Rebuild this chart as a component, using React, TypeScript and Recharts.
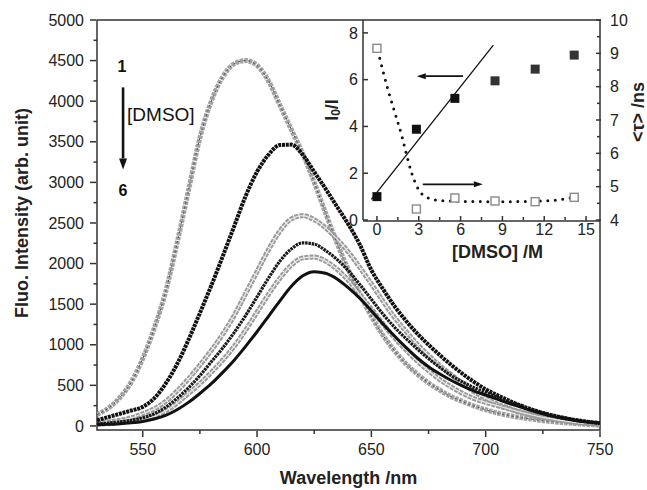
import React from 'react';
import {
  LineChart,
  ComposedChart,
  Line,
  XAxis,
  YAxis,
  ReferenceArea,
  ReferenceLine,
  Label,
} from 'recharts';

const FONT = '"Liberation Sans", Arial, Helvetica, sans-serif';
const INK = '#222';
const AXIS = '#333';

// emission spectra, 5 nm steps, curves 1 → 6 with increasing [DMSO]
const wavelengths = [
  530, 535, 540, 545, 550, 555, 560, 565, 570, 575, 580, 585, 590, 595, 600,
  605, 610, 615, 620, 625, 630, 635, 640, 645, 650, 655, 660, 665, 670, 675,
  680, 685, 690, 695, 700, 705, 710, 715, 720, 725, 730, 735, 740, 745, 750,
];
const spectrum1 = [
  140, 220, 350, 540, 830, 1200, 1650, 2250, 2900, 3550, 4000, 4300, 4460, 4500, 4440,
  4250, 3950, 3650, 3350, 3000, 2620, 2250, 1920, 1620, 1350, 1120, 930, 770, 640, 530,
  440, 360, 300, 245, 200, 160, 130, 105, 85, 65, 50, 38, 28, 18, 12,
];
const spectrum2 = [
  70, 110, 150, 190, 235, 340, 520, 760, 1060, 1390, 1730, 2090, 2460, 2830, 3130,
  3340, 3460, 3465, 3340, 3130, 2920, 2700, 2480, 2230, 1920, 1690, 1480, 1300, 1140, 1000,
  870, 750, 640, 540, 450, 380, 315, 255, 205, 160, 125, 95, 70, 50, 35,
];
const spectrum3 = [
  35, 50, 70, 100, 150, 210, 300, 430, 580, 750, 930, 1130, 1360, 1630, 1900,
  2170, 2400, 2550, 2590, 2540, 2440, 2300, 2140, 1950, 1750, 1540, 1340, 1170, 1010, 870,
  740, 630, 520, 420, 340, 270, 220, 175, 140, 110, 85, 62, 45, 32, 22,
];
const spectrum4 = [
  25, 35, 50, 70, 100, 150, 230, 340, 470, 620, 790, 960, 1150, 1360, 1590,
  1820, 2030, 2180, 2255, 2240, 2160, 2050, 1910, 1740, 1560, 1380, 1220, 1080, 950, 830,
  720, 620, 540, 470, 410, 355, 300, 250, 200, 160, 125, 95, 70, 50, 35,
];
const spectrum5 = [
  20, 28, 40, 55, 80, 120, 185, 280, 400, 520, 660, 810, 980, 1180, 1400,
  1620, 1820, 1980, 2070, 2080, 2030, 1930, 1790, 1620, 1440, 1260, 1090, 940, 800, 680,
  570, 480, 400, 335, 290, 250, 210, 170, 135, 105, 80, 60, 42, 30, 20,
];
const spectrum6 = [
  15, 20, 28, 38, 55, 85, 130, 200, 290, 400, 520, 660, 810, 980, 1160,
  1350, 1540, 1720, 1850, 1900, 1880, 1810, 1700, 1570, 1420, 1260, 1110, 970, 840, 730,
  640, 560, 490, 430, 380, 330, 280, 235, 190, 150, 115, 88, 65, 48, 35,
];

const wlTicks = [550, 600, 650, 700, 750];
const wlMinorTicks = [575, 625, 675, 725];
const intensityTicks = [0, 500, 1000, 1500, 2000, 2500, 3000, 3500, 4000, 4500, 5000];
const intensityMinorTicks = [250, 750, 1250, 1750, 2250, 2750, 3250, 3750, 4250, 4750];

// inset: I0/I (left axis) and mean lifetime (right axis) against [DMSO]
const dmso = [0, 2.83, 5.59, 8.47, 11.35, 14.15];
const quenchRatio = [1.0, 3.88, 5.2, 5.95, 6.45, 7.05];
const lifetime = [9.15, 4.33, 4.66, 4.57, 4.55, 4.68];
const ratioFitX = [-0.4, 8.35];
const ratioFitY = [0.88, 7.48];
const lifetimeFitX = [0.2, 0.8, 1.3, 1.8, 2.1, 2.5, 3.0, 3.5, 4.2, 6, 9, 12, 14.15];
const lifetimeFitY = [8.85, 7.9, 7.2, 6.5, 6.0, 5.4, 4.9, 4.7, 4.6, 4.56, 4.55, 4.57, 4.68];

const dmsoTicks = [0, 3, 6, 9, 12, 15];
const dmsoMinorTicks = [1.5, 4.5, 7.5, 10.5, 13.5];
const ratioTicks = [0, 2, 4, 6, 8];
const lifetimeTicks = [4, 5, 6, 7, 8, 9, 10];
const lifetimeMinorTicks = [4.5, 5.5, 6.5, 7.5, 8.5, 9.5];

// annotation arrows (data coordinates)
const dmsoArrow = { x: 541.4, from: 4170, to: 3160 };
const ratioArrow = { y: 6.15, from: 6.17, to: 2.86 };
const lifetimeArrow = { y: 5.07, from: 3.29, to: 7.6 };

const spectrumRows = wavelengths.map((wl, i) => ({
  wl,
  s1: spectrum1[i],
  s2: spectrum2[i],
  s3: spectrum3[i],
  s4: spectrum4[i],
  s5: spectrum5[i],
  s6: spectrum6[i],
}));
const ratioRows = dmso.map((c, i) => ({ c, v: quenchRatio[i] }));
const lifetimeRows = dmso.map((c, i) => ({ c, v: lifetime[i] }));
const ratioFitRows = ratioFitX.map((c, i) => ({ c, v: ratioFitY[i] }));
const lifetimeFitRows = lifetimeFitX.map((c, i) => ({ c, v: lifetimeFitY[i] }));

const tickFont = { fontSize: 16, fill: INK, fontFamily: FONT };
const noLabel = () => '';

function headPoints(x1: number, y1: number, x2: number, y2: number, len: number, half: number) {
  const d = Math.hypot(x2 - x1, y2 - y1) || 1;
  const ux = (x2 - x1) / d;
  const uy = (y2 - y1) / d;
  const bx = x2 - ux * len;
  const by = y2 - uy * len;
  return {
    base: [bx, by],
    points: `${x2},${y2} ${bx - uy * half},${by + ux * half} ${bx + uy * half},${by - ux * half}`,
  };
}

function SmallArrow(props: any) {
  const { x1, y1, x2, y2 } = props;
  const h = headPoints(x1, y1, x2, y2, 9, 3);
  return (
    <g>
      <line x1={x1} y1={y1} x2={h.base[0]} y2={h.base[1]} stroke="#111" strokeWidth={1.6} />
      <polygon points={h.points} fill="#111" />
    </g>
  );
}

// "1 ↓ [DMSO] 6" marker on the spectra panel
function DmsoArrow(props: any) {
  const { x1, y1, x2, y2 } = props;
  const h = headPoints(x1, y1, x2, y2, 11, 4);
  return (
    <g fontFamily={FONT} fill="#111">
      <line x1={x1} y1={y1} x2={h.base[0]} y2={h.base[1]} stroke="#111" strokeWidth={2.6} />
      <polygon points={h.points} />
      <text x={x1 - 1} y={y1 - 15} fontSize={16} fontWeight="bold" textAnchor="middle">1</text>
      <text x={x1} y={y2 + 27} fontSize={16} fontWeight="bold" textAnchor="middle">6</text>
      <text x={x1 + 4} y={y1 + 34} fontSize={19}>[DMSO]</text>
    </g>
  );
}

function FilledSquare(props: any) {
  const { cx, cy, index } = props;
  if (cx == null || cy == null) return <g key={`fs-${index}`} />;
  return (
    <rect key={`fs-${index}`} x={cx - 4.5} y={cy - 4.5} width={9} height={9}
      fill={index < 3 ? '#111' : '#333'} />
  );
}

function OpenSquare(props: any) {
  const { cx, cy, index } = props;
  if (cx == null || cy == null) return <g key={`os-${index}`} />;
  return (
    <rect key={`os-${index}`} x={cx - 4} y={cy - 4} width={8} height={8}
      fill="#fff" stroke="#8a8a8a" strokeWidth={1.4} />
  );
}

function SpectraPanel() {
  return (
    <LineChart width={647} height={490} data={spectrumRows}
      margin={{ top: 20, right: 47, bottom: 29, left: 36 }}>
      <XAxis xAxisId="wl" type="number" dataKey="wl" domain={[530, 750]} allowDataOverflow
        ticks={wlTicks} height={30} tickSize={6} tickMargin={7} axisLine={false} stroke={AXIS}
        strokeWidth={1.5} tick={tickFont}>
        <Label content={({ viewBox }: any) => (
          <text x={viewBox.x + viewBox.width / 2} y={viewBox.y + 53} textAnchor="middle"
            fontFamily={FONT} fontSize={18} fontWeight="bold" fill={INK}>
            Wavelength /nm
          </text>
        )} />
      </XAxis>
      <YAxis yAxisId="int" type="number" domain={[-50, 5000]} allowDataOverflow
        ticks={intensityTicks} width={60} tickSize={6} tickMargin={6} axisLine={false} stroke={AXIS}
        strokeWidth={1.5} tick={tickFont}>
        <Label content={({ viewBox }: any) => {
          const x = viewBox.x - 14;
          const y = viewBox.y + viewBox.height / 2 - 12;
          return (
            <text x={x} y={y} transform={`rotate(-90 ${x} ${y})`} textAnchor="middle"
              dominantBaseline="central" fontFamily={FONT} fontSize={18} fontWeight="bold" fill={INK}>
              Fluo. Intensity (arb. unit)
            </text>
          );
        }} />
      </YAxis>
      {/* minor-tick axes, 1px wide so they sit on the plot edge */}
      <XAxis xAxisId="aMinorX" type="number" dataKey="wl" domain={[530, 750]} allowDataOverflow
        ticks={wlMinorTicks} height={1} tickSize={4} axisLine={false} tickFormatter={noLabel}
        stroke={AXIS} strokeWidth={1.5} />
      <YAxis yAxisId="aMinorY" type="number" domain={[-50, 5000]} allowDataOverflow
        ticks={intensityMinorTicks} width={1} tickSize={3.5} axisLine={false} tickFormatter={noLabel}
        stroke={AXIS} strokeWidth={1.5} />

      {/* plot frame */}
      <ReferenceArea xAxisId="wl" yAxisId="int" x1={530} x2={750} y1={-50} y2={5000}
        fill="none" stroke={AXIS} strokeWidth={1.5} />

      {/* keeps the minor-tick axes bound to the data */}
      <Line xAxisId="aMinorX" yAxisId="aMinorY" dataKey="s6" stroke="none" dot={false}
        isAnimationActive={false} />

      {/* 1: open triangles */}
      <Line xAxisId="wl" yAxisId="int" dataKey="s1" type="monotone" dot={false}
        stroke="#a2a2a2" strokeWidth={5} strokeDasharray="3.5 1" isAnimationActive={false} />
      <Line xAxisId="wl" yAxisId="int" dataKey="s1" type="monotone" dot={false}
        stroke="#4a4a4a" strokeWidth={1} strokeDasharray="2 3" isAnimationActive={false} />
      {/* 3 and 5: open circles */}
      <Line xAxisId="wl" yAxisId="int" dataKey="s3" type="monotone" dot={false}
        stroke="#999" strokeWidth={5} strokeDasharray="4 1" isAnimationActive={false} />
      <Line xAxisId="wl" yAxisId="int" dataKey="s3" type="monotone" dot={false}
        stroke="#e6e6e6" strokeWidth={1.2} isAnimationActive={false} />
      <Line xAxisId="wl" yAxisId="int" dataKey="s5" type="monotone" dot={false}
        stroke="#999" strokeWidth={5} strokeDasharray="4 1" isAnimationActive={false} />
      <Line xAxisId="wl" yAxisId="int" dataKey="s5" type="monotone" dot={false}
        stroke="#e6e6e6" strokeWidth={1.2} isAnimationActive={false} />
      {/* 2, 4, 6: filled symbols */}
      <Line xAxisId="wl" yAxisId="int" dataKey="s2" type="monotone" dot={false}
        stroke="#111" strokeWidth={4} strokeDasharray="3 0.8" isAnimationActive={false} />
      <Line xAxisId="wl" yAxisId="int" dataKey="s4" type="monotone" dot={false}
        stroke="#1a1a1a" strokeWidth={3.2} strokeDasharray="2.5 0.8" isAnimationActive={false} />
      <Line xAxisId="wl" yAxisId="int" dataKey="s6" type="monotone" dot={false}
        stroke="#111" strokeWidth={3} isAnimationActive={false} />

      <ReferenceLine xAxisId="wl" yAxisId="int"
        segment={[{ x: dmsoArrow.x, y: dmsoArrow.from }, { x: dmsoArrow.x, y: dmsoArrow.to }]}
        shape={DmsoArrow} />
    </LineChart>
  );
}

function InsetPanel() {
  return (
    <ComposedChart width={327} height={262} margin={{ top: 20, right: 4, bottom: 15, left: 5 }}>
      <XAxis xAxisId="c" type="number" dataKey="c" domain={[-1, 16]} allowDataOverflow
        ticks={dmsoTicks} height={26} tickSize={-5} tickMargin={8} stroke={AXIS}
        strokeWidth={1.5} tick={tickFont}>
        <Label content={({ viewBox }: any) => (
          <text x={viewBox.x + viewBox.width / 2 + 16} y={viewBox.y + 37} textAnchor="middle"
            fontFamily={FONT} fontSize={18} fontWeight="bold" fill={INK}>
            [DMSO] /M
          </text>
        )} />
      </XAxis>
      <YAxis yAxisId="ratio" type="number" domain={[0, 8.55]} allowDataOverflow
        ticks={ratioTicks} width={38} tickSize={-5} tickMargin={10} stroke={AXIS}
        strokeWidth={1.5} tick={tickFont}>
        <Label content={({ viewBox }: any) => {
          const x = viewBox.x + 7;
          const y = viewBox.y + viewBox.height / 2 - 10;
          return (
            <text x={x} y={y} transform={`rotate(-90 ${x} ${y})`} textAnchor="middle"
              dominantBaseline="central" fontFamily={FONT} fontSize={18} fontWeight="bold" fill={INK}>
              I<tspan dy={4} fontSize={12}>0</tspan><tspan dy={-4}>/I</tspan>
            </text>
          );
        }} />
      </YAxis>
      <YAxis yAxisId="tau" orientation="right" type="number" domain={[4, 10]} allowDataOverflow
        ticks={lifetimeTicks} width={42} tickSize={-5} tickMargin={14} axisLine={false} stroke={AXIS}
        strokeWidth={1.5} tick={tickFont}>
        <Label content={({ viewBox }: any) => {
          const x = viewBox.x + 37;
          const y = viewBox.y + viewBox.height / 2 - 8;
          return (
            <text x={x} y={y} transform={`rotate(-90 ${x} ${y})`} textAnchor="middle"
              dominantBaseline="central" fontFamily={FONT} fontSize={18} fontWeight="bold" fill={INK}>
              {'<τ> /ns'}
            </text>
          );
        }} />
      </YAxis>
      <XAxis xAxisId="aMinorX" type="number" dataKey="c" domain={[-1, 16]} allowDataOverflow
        ticks={dmsoMinorTicks} height={1} tickSize={-3} axisLine={false} tickFormatter={noLabel}
        stroke={AXIS} strokeWidth={1.5} />
      <YAxis yAxisId="aMinorR" orientation="right" type="number" domain={[4, 10]} allowDataOverflow
        ticks={lifetimeMinorTicks} width={1} tickSize={-3} axisLine={false} tickFormatter={noLabel}
        stroke={AXIS} strokeWidth={1.5} />

      {/* keeps the minor-tick axes bound to the data */}
      <Line xAxisId="aMinorX" yAxisId="aMinorR" data={lifetimeRows} dataKey="v" stroke="none"
        dot={false} isAnimationActive={false} />

      <Line xAxisId="c" yAxisId="ratio" data={ratioFitRows} dataKey="v" type="linear"
        stroke="#111" strokeWidth={1.3} dot={false} isAnimationActive={false} />
      <Line xAxisId="c" yAxisId="tau" data={lifetimeFitRows} dataKey="v" type="monotone"
        stroke="#111" strokeWidth={3} strokeLinecap="round" strokeDasharray="0 7.5"
        dot={false} isAnimationActive={false} />
      <Line xAxisId="c" yAxisId="ratio" data={ratioRows} dataKey="v" stroke="none"
        dot={FilledSquare} isAnimationActive={false} />
      <Line xAxisId="c" yAxisId="tau" data={lifetimeRows} dataKey="v" stroke="none"
        dot={OpenSquare} isAnimationActive={false} />

      <ReferenceLine xAxisId="c" yAxisId="ratio"
        segment={[{ x: ratioArrow.from, y: ratioArrow.y }, { x: ratioArrow.to, y: ratioArrow.y }]}
        shape={SmallArrow} />
      <ReferenceLine xAxisId="c" yAxisId="tau"
        segment={[{ x: lifetimeArrow.from, y: lifetimeArrow.y }, { x: lifetimeArrow.to, y: lifetimeArrow.y }]}
        shape={SmallArrow} />
    </ComposedChart>
  );
}

export default function App() {
  return (
    <div style={{ position: 'absolute', left: 0, top: 0, width: 647, height: 490, background: '#fff' }}>
      <SpectraPanel />
      <div style={{ position: 'absolute', left: 320, top: 0 }}>
        <InsetPanel />
      </div>
    </div>
  );
}
